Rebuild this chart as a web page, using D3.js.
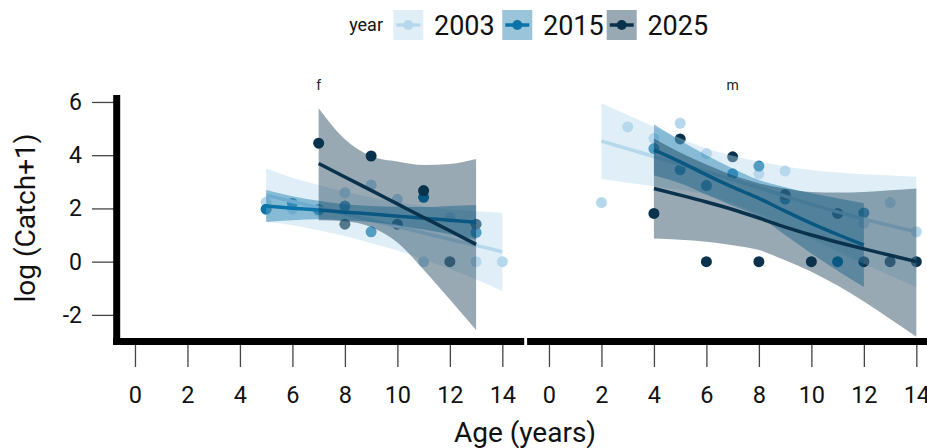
<!DOCTYPE html>
<html>
<head>
<meta charset="UTF-8">
<title>catch by age</title>
<script src="https://cdn.jsdelivr.net/npm/d3@7"></script>
<style>
 body { margin:0; background:#fff; }
 svg text { font-family: Roboto, "Open Sans", sans-serif; }
</style>
</head>
<body>
<svg width="927" height="448"></svg>
<script>
// ---- data ----
var years = ["2003", "2015", "2025"];
var colours = ["#b6d8ec", "#0b73a8", "#0a324d"];
var panels = ["f", "m"];
var xTicks = [0, 2, 4, 6, 8, 10, 12, 14];
var yTicks = [-2, 0, 2, 4, 6];

// points: [age, log(catch+1)]
var fPts2003 = [[5,2.23],[6,1.97],[7,1.9],[8,2.59],[9,2.88],[10,2.34],[11,0],[12,1.66],[13,0],[14,0]];
var fPts2015 = [[5,1.97],[6,2.19],[7,1.96],[8,2.09],[9,1.12],[11,2.42],[13,1.1]];
var fPts2025 = [[7,4.45],[8,1.41],[9,3.97],[10,1.41],[11,2.67],[12,0],[13,1.41]];
var mPts2003 = [[2,2.22],[3,5.06],[4,4.63],[5,5.2],[6,4.06],[8,3.3],[9,3.41],[12,1.44],[13,2.22],[14,1.12]];
var mPts2015 = [[4,4.25],[5,3.45],[6,2.86],[7,3.3],[8,3.59],[9,2.35],[11,0],[12,1.83]];
var mPts2025 = [[4,1.81],[5,4.61],[6,0],[7,3.94],[8,0],[9,2.52],[10,0],[11,1.81],[12,0],[13,0],[14,0]];

// smooth fits: [age, fit, lower, upper]
var fFit2003 = [[5,2.5,1.5,3.5],[6,2.26,1.37,3.15],[7,2.03,1.18,2.88],[8,1.79,0.96,2.63],[9,1.55,0.69,2.41],
  [10,1.32,0.42,2.22],[11,1.08,0.08,2.08],[12,0.84,-0.28,1.96],[13,0.61,-0.67,1.89],[14,0.37,-1.1,1.84]];
var fFit2015 = [[5,2.09,1.49,2.69],[6,2.01,1.56,2.46],[7,1.94,1.59,2.29],[8,1.86,1.56,2.16],[9,1.79,1.49,2.09],
  [10,1.71,1.36,2.06],[11,1.63,1.21,2.05],[12,1.56,1.03,2.09],[13,1.48,0.83,2.13]];
var fFit2025 = [[7,3.69,1.56,5.76],[8,3.18,1.52,4.6],[9,2.68,1.3,3.97],[10,2.17,0.72,3.76],[11,1.66,-0.3,3.63],
  [12,1.16,-1.42,3.67],[13,0.65,-2.57,3.86]];
var mFit2003 = [[2,4.53,3.11,5.95],[4,3.95,2.83,5.07],[6,3.38,2.51,4.25],[8,2.78,1.8,3.76],[10,2.15,0.86,3.44],
  [12,1.6,-0.08,3.28],[14,1.12,-0.95,3.19]];
var mFit2015 = [[4,4.2,3.24,5.16],[5,3.75,2.95,4.55],[6,3.26,2.52,4.0],[7,2.8,2.1,3.5],[8,2.38,1.69,3.07],
  [9,1.9,1.0,2.8],[10,1.44,0.31,2.57],[11,1.02,-0.34,2.38],[12,0.62,-0.95,2.19]];
var mFit2025 = [[4,2.75,0.87,4.63],[5,2.5,0.82,4.1],[6,2.24,0.75,3.65],[7,1.96,0.62,3.25],[8,1.64,0.44,2.95],
  [9,1.3,0.05,2.75],[10,1.0,-0.38,2.62],[11,0.73,-0.9,2.6],[12,0.48,-1.5,2.62],[13,0.24,-2.15,2.68],[14,0,-2.82,2.75]];

var pts = {f: [fPts2003, fPts2015, fPts2025], m: [mPts2003, mPts2015, mPts2025]};
var fits = {f: [fFit2003, fFit2015, fFit2025], m: [mFit2003, mFit2015, mFit2025]};

// ---- layout ----
var svg = d3.select("svg");
var y = d3.scaleLinear().domain([-3.0, 6.13]).range([341.5, 98.5]);
var xs = {
  f: d3.scaleLinear().domain([-0.7, 14.7]).range([116.6, 520.7]),
  m: d3.scaleLinear().domain([-0.7, 14.7]).range([530.6, 934.7])
};
var ribbonAlpha = 0.42;

panels.forEach(function(p) {
  var x = xs[p];
  var g = svg.append("g");

  // points first, smooths drawn over them
  years.forEach(function(yr, i) {
    g.selectAll(null).data(pts[p][i]).enter().append("circle")
      .attr("cx", function(d) { return x(d[0]); })
      .attr("cy", function(d) { return y(d[1]); })
      .attr("r", 5.5)
      .style("fill", colours[i]);
  });

  years.forEach(function(yr, i) {
    var area = d3.area().curve(d3.curveMonotoneX)
      .x(function(d) { return x(d[0]); })
      .y0(function(d) { return y(d[2]); })
      .y1(function(d) { return y(d[3]); });
    var line = d3.line().curve(d3.curveMonotoneX)
      .x(function(d) { return x(d[0]); })
      .y(function(d) { return y(d[1]); });
    g.append("path").datum(fits[p][i]).attr("d", area)
      .style("fill", colours[i]).style("fill-opacity", ribbonAlpha);
    g.append("path").datum(fits[p][i]).attr("d", line)
      .style("fill", "none").style("stroke", colours[i]).style("stroke-width", 3.5);
  });

  // strip label
  svg.append("text").attr("x", (x.range()[0] + x.range()[1]) / 2).attr("y", 90)
    .attr("text-anchor", "middle").style("font-size", "14px").style("fill", "#222").text(p);

  // x axis
  var xa = svg.append("g").attr("transform", "translate(0,345)")
    .call(d3.axisBottom(x).tickValues(xTicks).tickSize(22).tickPadding(19));
  xa.select(".domain").remove();
  xa.selectAll(".tick line").style("stroke", "#444").style("stroke-width", 1.3);
  xa.selectAll(".tick text").style("font-size", "23.5px").style("fill", "#111")
    .style("font-family", "Roboto, sans-serif");

  var r = x.range();
  svg.append("line").attr("x1", r[0] - 3.5).attr("x2", r[1] + 3.5)
    .attr("y1", 341.5).attr("y2", 341.5)
    .style("stroke", "#000").style("stroke-width", 7);
});

// y axis on the left panel only (plain hyphen for negatives, as in the original)
var ya = svg.append("g").attr("transform", "translate(115,0)")
  .call(d3.axisLeft(y).tickValues(yTicks).tickSize(23).tickPadding(10)
    .tickFormat(function(d) { return String(d); }));
ya.select(".domain").remove();
ya.selectAll(".tick line").style("stroke", "#444").style("stroke-width", 1.3);
ya.selectAll(".tick text").style("font-size", "23px").style("fill", "#111")
  .style("font-family", "Roboto, sans-serif");
svg.append("line").attr("x1", 116.7).attr("x2", 116.7)
  .attr("y1", y.range()[1] - 3.5).attr("y2", y.range()[0] + 3.5)
  .style("stroke", "#000").style("stroke-width", 7);

// axis titles
svg.append("text").attr("x", 525).attr("y", 442).attr("text-anchor", "middle")
  .style("font-size", "28px").style("fill", "#111").text("Age (years)");
svg.append("text").attr("transform", "translate(35,218) rotate(-90)").attr("text-anchor", "middle")
  .style("font-size", "28px").style("fill", "#111").text("log (Catch+1)");

// legend
var keyX = [393.3, 502.3, 606.7];
svg.append("text").attr("x", 383).attr("y", 31).attr("text-anchor", "end")
  .style("font-size", "18px").style("fill", "#111").text("year");
years.forEach(function(yr, i) {
  var k = svg.append("g").attr("transform", "translate(" + keyX[i] + ",10)");
  k.append("rect").attr("width", 30).attr("height", 30)
    .style("fill", colours[i]).style("fill-opacity", ribbonAlpha);
  k.append("line").attr("x1", 3).attr("x2", 27).attr("y1", 15).attr("y2", 15)
    .style("stroke", colours[i]).style("stroke-width", 3.5);
  k.append("circle").attr("cx", 15).attr("cy", 15).attr("r", 5).style("fill", colours[i]);
  svg.append("text").attr("x", keyX[i] + 40.7).attr("y", 35)
    .style("font-size", "27px").style("fill", "#111").text(yr);
});
</script>
</body>
</html>
